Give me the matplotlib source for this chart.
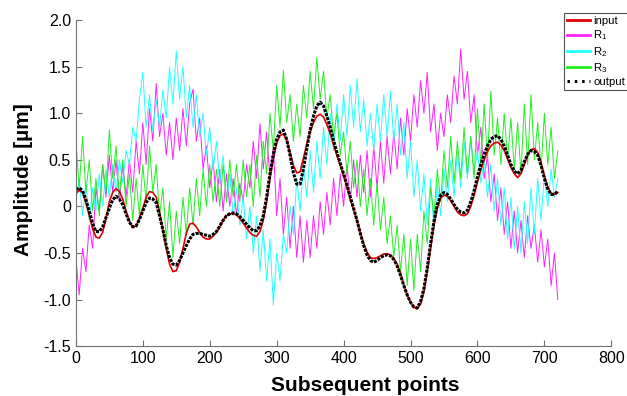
import numpy as np
import matplotlib.pyplot as plt

plt.rcParams['font.family'] = ['Liberation Sans', 'DejaVu Sans']
plt.rcParams['mathtext.default'] = 'regular'

# smooth signals, one value every 5 points (0..720)
x_smooth = np.arange(0, 721, 5)
input_sig = [0.14, 0.17, 0.15, 0.04, -0.10, -0.24, -0.33, -0.34, -0.28, -0.13,
             0.05, 0.15, 0.19, 0.16, 0.08, -0.05, -0.16, -0.22, -0.21, -0.13,
             -0.02, 0.10, 0.16, 0.15, 0.10, -0.06, -0.25, -0.45, -0.62, -0.70,
             -0.69, -0.60, -0.45, -0.29, -0.19, -0.18, -0.22, -0.28, -0.33, -0.35,
             -0.35, -0.32, -0.28, -0.22, -0.15, -0.10, -0.08, -0.08, -0.09, -0.13,
             -0.18, -0.23, -0.28, -0.31, -0.32, -0.27, -0.15, 0.05, 0.30, 0.51,
             0.68, 0.76, 0.78, 0.71, 0.58, 0.44, 0.36, 0.37, 0.52, 0.67,
             0.80, 0.90, 0.97, 0.99, 0.96, 0.88, 0.78, 0.66, 0.55, 0.44,
             0.33, 0.21, 0.08, -0.04, -0.15, -0.28, -0.40, -0.49, -0.55, -0.56,
             -0.55, -0.53, -0.51, -0.51, -0.52, -0.56, -0.62, -0.72, -0.84, -0.95,
             -1.03, -1.08, -1.10, -1.05, -0.92, -0.70, -0.45, -0.20, -0.02, 0.09,
             0.12, 0.11, 0.06, 0.00, -0.06, -0.09, -0.10, -0.08, 0.00, 0.12,
             0.26, 0.39, 0.50, 0.59, 0.65, 0.68, 0.69, 0.66, 0.60, 0.51,
             0.42, 0.35, 0.31, 0.35, 0.45, 0.55, 0.61, 0.62, 0.58, 0.47,
             0.33, 0.21, 0.14, 0.13, 0.15]
output_sig = [0.18, 0.20, 0.17, 0.07, -0.05, -0.18, -0.27, -0.27, -0.22, -0.12,
              -0.02, 0.07, 0.11, 0.08, 0.02, -0.08, -0.17, -0.22, -0.21, -0.14,
              -0.05, 0.04, 0.09, 0.08, 0.04, -0.10, -0.25, -0.42, -0.55, -0.62,
              -0.63, -0.58, -0.50, -0.42, -0.35, -0.30, -0.29, -0.29, -0.30, -0.31,
              -0.32, -0.30, -0.27, -0.21, -0.15, -0.10, -0.08, -0.07, -0.08, -0.11,
              -0.15, -0.19, -0.23, -0.26, -0.26, -0.21, -0.10, 0.10, 0.35, 0.56,
              0.72, 0.80, 0.82, 0.72, 0.55, 0.36, 0.24, 0.24, 0.40, 0.62,
              0.82, 0.97, 1.08, 1.12, 1.08, 0.97, 0.85, 0.71, 0.58, 0.46,
              0.35, 0.23, 0.10, -0.02, -0.15, -0.29, -0.42, -0.52, -0.58, -0.60,
              -0.58, -0.55, -0.53, -0.52, -0.53, -0.57, -0.64, -0.74, -0.85, -0.95,
              -1.03, -1.08, -1.09, -1.02, -0.88, -0.66, -0.40, -0.16, 0.02, 0.12,
              0.15, 0.13, 0.08, 0.02, -0.03, -0.06, -0.07, -0.04, 0.05, 0.17,
              0.32, 0.45, 0.56, 0.65, 0.72, 0.75, 0.76, 0.72, 0.65, 0.55,
              0.45, 0.38, 0.35, 0.39, 0.48, 0.56, 0.60, 0.59, 0.55, 0.44,
              0.30, 0.19, 0.13, 0.13, 0.16]

# noisy components, one value every 5 points (0..720)
x_noisy = np.arange(0, 721, 5)
r1 = [-0.55, -0.95, -0.45, -0.70, -0.20, -0.45, 0.20, -0.05, 0.45, 0.10,
      0.55, 0.15, 0.50, 0.05, 0.45, 0.10, 0.50, 0.15, 0.70, 0.35,
      0.90, 0.45, 1.05, 0.70, 1.32, 0.75, 1.00, 0.55, 0.90, 0.50,
      0.95, 0.60, 1.05, 0.65, 1.10, 1.26, 0.70, 0.95, 0.40, 0.65,
      0.20, 0.50, 0.05, 0.40, -0.05, 0.35, 0.00, 0.30, -0.10, 0.25,
      0.05, 0.45, 0.20, 0.70, 0.30, 0.89, 0.40, 0.80, 0.30, 0.65,
      -0.10, 0.30, -0.30, 0.10, -0.45, 0.00, -0.55, -0.10, -0.60, -0.15,
      -0.55, -0.10, -0.45, 0.05, -0.30, 0.15, -0.20, 0.30, -0.10, 0.35,
      0.00, 0.45, 0.05, 0.50, 0.10, 0.55, 0.15, 0.60, 0.10, 0.65,
      0.20, 0.70, 0.25, 0.75, 0.35, 0.80, 0.40, 0.95, 0.55, 1.05,
      0.70, 1.20, 0.85, 1.35, 1.00, 1.44, 0.80, 1.10, 0.60, 1.00,
      0.75, 1.20, 0.90, 1.40, 1.10, 1.69, 1.15, 1.45, 0.90, 1.20,
      0.55, 0.85, 0.30, 0.55, 0.05, 0.35, -0.15, 0.20, -0.30, 0.05,
      -0.45, -0.05, -0.50, -0.15, -0.55, -0.10, -0.45, -0.20, -0.60, -0.25,
      -0.65, -0.35, -0.85, -0.50, -1.00]
r2 = [0.05, 0.30, -0.10, 0.25, -0.15, 0.20, -0.05, 0.35, 0.00, 0.40,
      0.10, 0.45, 0.15, 0.50, 0.25, 0.60, 0.45, 0.85, 0.70, 1.15,
      1.44, 0.85, 1.20, 0.80, 1.15, 0.85, 1.25, 0.95, 1.50, 1.10,
      1.67, 1.15, 1.50, 0.95, 1.30, 0.85, 1.20, 0.75, 1.00, 0.55,
      0.85, 0.40, 0.70, 0.25, 0.55, 0.05, 0.35, -0.10, 0.20, -0.20,
      0.10, -0.35, 0.00, -0.50, -0.10, -0.70, -0.25, -0.80, -0.35, -1.06,
      -0.50, -0.80, -0.30, -0.50, 0.00, -0.30, 0.30, -0.05, 0.45, 0.10,
      0.60, 0.15, 0.70, 0.30, 0.85, 0.45, 1.00, 0.60, 1.10, 0.70,
      1.20, 0.75, 1.30, 0.85, 1.37, 0.80, 1.15, 0.65, 1.00, 0.60,
      1.10, 0.70, 1.20, 0.75, 1.24, 0.70, 1.10, 0.55, 0.90, 0.30,
      0.70, 0.10, 0.50, -0.05, 0.35, -0.20, 0.30, -0.25, 0.25, -0.10,
      0.40, 0.05, 0.50, 0.10, 0.60, 0.20, 0.70, 0.30, 0.75, 0.35,
      0.60, 0.25, 0.50, 0.10, 0.45, -0.05, 0.30, -0.20, 0.20, -0.35,
      0.10, -0.45, 0.00, -0.50, 0.05, -0.40, 0.20, -0.30, 0.30, -0.15,
      0.35, 0.00, 0.40, 0.10, 0.30]
r3 = [0.70, 0.20, 0.75, 0.15, 0.50, -0.05, 0.30, -0.10, 0.45, 0.15,
      0.82, 0.30, 0.65, 0.10, 0.50, 0.00, 0.35, -0.15, 0.30, -0.10,
      0.45, 0.05, 0.65, 0.15, 0.45, -0.10, 0.20, -0.35, 0.05, -0.55,
      -0.05, -0.40, 0.10, -0.30, 0.20, -0.20, 0.30, -0.10, 0.40, 0.00,
      0.45, 0.05, 0.40, 0.00, 0.45, 0.05, 0.50, 0.10, 0.45, 0.05,
      0.50, 0.10, 0.45, 0.00, 0.55, 0.10, 0.70, 0.35, 1.00, 0.60,
      1.30, 0.85, 1.46, 0.90, 1.20, 0.70, 1.10, 0.75, 1.30, 0.95,
      1.45, 1.05, 1.60, 1.15, 1.45, 0.95, 1.20, 0.75, 1.00, 0.55,
      0.80, 0.35, 0.70, 0.20, 0.50, 0.00, 0.40, -0.10, 0.30, -0.20,
      0.25, -0.25, 0.10, -0.40, -0.10, -0.55, -0.20, -0.70, -0.30, -0.85,
      -0.35, -0.90, -0.30, -0.70, -0.05, -0.40, 0.20, -0.10, 0.40, 0.05,
      0.60, 0.20, 0.75, 0.25, 0.70, 0.30, 0.85, 0.35, 0.75, 0.30,
      1.05, 0.45, 1.10, 0.50, 1.24, 0.55, 0.95, 0.45, 1.00, 0.50,
      0.95, 0.40, 0.90, 0.35, 1.10, 0.45, 1.20, 0.50, 0.90, 0.40,
      1.00, 0.45, 0.85, 0.30, 0.60]

yticks = [-1.5, -1.0, -0.5, 0, 0.5, 1.0, 1.5, 2.0]
ytick_labels = ['-1.5', '-1.0', '-0.5', '0', '0.5', '1.0', '1.5', '2.0']

fig = plt.figure(figsize=(6.27, 3.96), dpi=100)
ax = fig.add_axes([0.121, 0.126, 0.854, 0.823])

l1, = ax.plot(x_noisy, r1, color='#ff22ff', lw=0.7)
l2, = ax.plot(x_noisy, r2, color='#22ffff', lw=0.7)
l3, = ax.plot(x_noisy, r3, color='#22ee22', lw=0.7)
l0, = ax.plot(x_smooth, input_sig, color='#e00000', lw=1.2)
l4, = ax.plot(x_smooth, output_sig, color='black', lw=2.2,
              linestyle=(0, (1.0, 0.4)), dash_capstyle='butt')

ax.set_xlim(0, 800)
ax.set_ylim(-1.5, 2.0)
ax.set_xticks(np.arange(0, 801, 100))
ax.set_yticks(yticks)
ax.set_yticklabels(ytick_labels)
ax.tick_params(direction='in', length=4, labelsize=11.5, color='#707070')
for s in ['top', 'right']:
    ax.spines[s].set_visible(False)
for s in ['left', 'bottom']:
    ax.spines[s].set_color('#707070')

ax.set_xlabel('Subsequent points', fontsize=15, fontweight='bold')
ax.xaxis.set_label_coords(0.54, -0.092)
ax.set_ylabel('Amplitude [µm]', fontsize=15, fontweight='bold')
ax.yaxis.set_label_coords(-0.08, 0.512)

leg = fig.legend([l0, l1, l2, l3, l4], ['input', 'R$_1$', 'R$_2$', 'R$_3$', 'output'],
                 loc='upper left', bbox_to_anchor=(564 / 627, 1 - 13 / 396),
                 fontsize=8.2, fancybox=False, edgecolor='#555555', framealpha=1,
                 handlelength=2.0, labelspacing=0.2, borderpad=0.3,
                 handletextpad=0.25, borderaxespad=0)
leg.get_frame().set_linewidth(0.8)
for h in leg.legend_handles[:4]:
    h.set_linewidth(2)
leg.legend_handles[4].set_linestyle((0, (0.8, 1.6)))

fig.savefig('out.png', dpi=100)
